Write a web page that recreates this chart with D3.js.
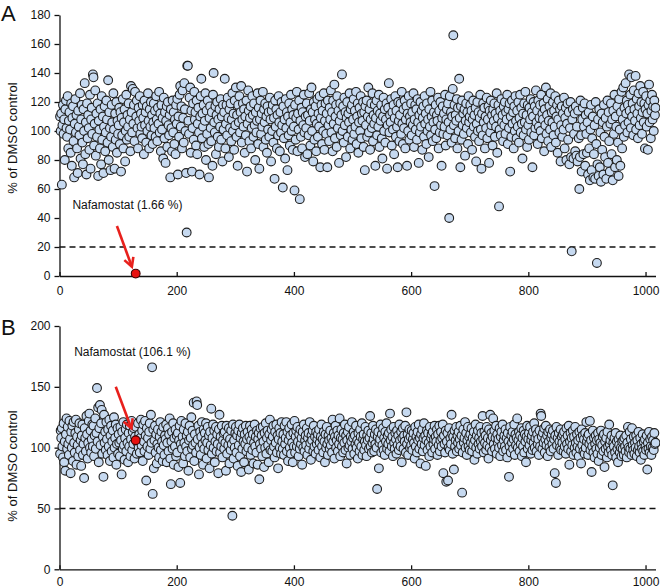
<!DOCTYPE html>
<html>
<head>
<meta charset="utf-8">
<script src="https://cdn.jsdelivr.net/npm/d3@7"></script>
<style>
    body { margin: 0; background: #fff; }
    text { font-family: Arial, "Liberation Sans", sans-serif; fill: #111; }
</style>
</head>
<body>
<svg id="chart" width="660" height="588"></svg>
<script>
// Screen A: % of DMSO control, compounds 1..1017 (compound 130 = nafamostat)
const screenA = [
    110,100,112,63,104,118,98,108,80,115,121,102,96,124,88,107,113,101,85,119,
    76,109,117,93,68,105,122,99,111,88,71,114,103,97,126,81,108,118,92,77,
    115,100,133,84,106,70,119,95,111,102,87,125,74,108,116,98,139,137,90,105,
    128,83,112,96,119,69,107,101,88,115,77,124,94,110,71,103,117,86,99,121,
    108,92,135,80,113,102,73,96,118,106,89,126,101,74,112,94,120,85,107,98,
    104,116,91,113,72,109,97,122,88,106,115,79,100,125,94,111,103,119,96,108,
    86,131,113,99,129,105,118,93,127,1.66,110,121,102,88,116,107,124,98,112,103,
    95,118,109,84,121,104,113,92,117,100,126,107,88,115,103,120,97,111,91,106,
    119,102,114,96,124,108,93,116,105,127,99,112,86,118,101,109,81,123,95,113,
    78,107,117,89,120,104,97,111,68,115,102,86,121,99,113,91,108,84,118,105,
    122,70,110,96,125,131,103,117,88,128,109,92,133,115,100,71,30,145,145,107,
    98,123,130,85,114,72,102,119,94,127,108,113,90,121,84,105,116,99,70,110,
    124,136,95,112,103,118,89,107,126,80,114,98,121,91,68,109,117,102,93,113,
    76,125,140,106,99,117,84,111,120,96,108,89,115,103,122,94,110,79,118,101,
    113,136,88,105,118,97,123,109,82,115,102,119,93,108,126,100,112,87,121,104,
    130,96,111,76,118,106,124,99,113,131,92,108,119,103,115,85,110,97,121,72,
    105,128,114,93,109,117,88,102,124,111,96,119,104,80,113,99,107,126,91,116,
    74,108,121,98,112,103,127,89,115,106,119,94,110,85,117,101,113,96,123,108,
    79,114,100,118,92,109,67,121,103,115,88,111,97,124,106,86,113,99,120,104,
    61,117,95,108,81,122,102,113,73,110,97,119,90,106,125,100,115,87,111,103,
    59,118,94,109,127,86,112,101,121,53,107,96,116,88,113,104,125,99,82,110,
    102,119,84,111,97,126,107,90,115,130,100,113,79,120,94,108,117,86,105,122,
    96,112,103,124,75,109,118,91,114,100,126,87,107,119,98,112,75,121,104,93,
    116,108,128,99,113,86,121,105,132,95,110,118,89,124,102,114,78,107,119,97,
    111,139,100,117,92,123,104,113,82,109,120,96,112,106,126,88,115,101,118,94,
    108,122,98,114,103,127,91,110,119,85,106,116,100,124,95,112,107,120,89,113,
    73,117,104,121,96,110,130,99,115,87,108,119,102,126,93,111,105,118,76,109,
    121,97,114,103,125,89,112,107,118,95,81,110,123,100,115,92,108,119,74,104,
    116,133,99,111,106,122,90,113,101,118,84,109,124,96,114,103,75,120,107,93,
    111,119,98,127,105,91,115,102,121,88,108,117,76,112,100,124,94,110,106,119,
    97,113,104,126,89,108,118,101,115,94,122,106,78,111,99,120,103,114,87,109,
    117,96,124,105,112,91,119,100,108,82,115,103,127,97,110,121,93,106,113,62,
    101,118,95,111,107,123,88,114,99,120,104,76,109,117,98,112,103,125,90,108,
    115,97,119,106,40,124,101,113,92,110,129,166,104,118,95,111,107,122,88,116,
    100,136,109,75,117,94,121,104,112,98,115,83,107,119,102,113,91,124,106,110,
    118,99,114,87,108,121,103,111,96,116,79,105,120,100,113,93,109,125,101,74,
    112,97,119,106,116,88,110,102,123,95,108,117,78,114,99,121,104,111,90,115,
    107,119,96,112,103,126,85,109,118,48,101,114,97,122,106,111,93,117,104,120,
    98,113,108,125,91,115,102,119,72,110,96,121,105,113,88,117,100,124,107,95,
    114,103,120,92,109,125,99,116,105,81,112,97,119,106,127,101,111,89,118,104,
    94,116,108,122,99,113,75,110,120,97,117,102,128,106,114,91,121,103,109,118,
    100,125,95,112,108,119,86,115,104,130,98,111,122,93,107,117,101,126,89,113,
    106,120,97,114,103,124,92,110,118,85,108,121,99,115,79,104,117,96,112,101,
    123,88,109,116,80,105,119,94,113,77,102,120,82,17,108,115,81,98,112,86,
    117,83,103,79,114,95,60,82,121,97,72,108,116,84,103,119,76,111,98,85,
    106,70,113,88,66,101,118,73,95,110,68,84,104,67,120,91,9,77,108,69,
    115,75,99,65,112,87,106,70,118,96,82,109,67,103,121,78,113,93,72,105,
    119,84,108,66,114,98,125,75,110,103,80,117,92,69,122,101,76,113,127,88,
    108,130,96,116,104,133,112,121,99,118,106,139,114,125,102,137,110,119,97,128,
    115,107,138,101,122,112,95,126,117,104,131,109,120,98,113,127,106,119,88,115,
    124,103,112,87,118,132,106,121,95,114,125,108,117,100,121,111,116
];

// Screen B: % of DMSO control, compounds 1..1017 (compound 130 = nafamostat)
const screenB = [
    95,114,108,116,101,92,120,88,105,81,111,124,99,117,103,94,122,107,79,113,
    100,118,89,121,104,96,112,123,86,109,102,93,115,120,98,106,85,110,119,94,
    103,75,116,108,97,126,111,91,104,122,128,100,114,96,107,119,101,118,93,110,
    124,99,112,149,105,133,88,116,135,102,120,131,95,109,76,127,104,113,98,121,
    107,94,115,101,123,89,110,118,97,105,114,92,125,100,108,119,86,103,116,95,
    111,104,93,117,106,78,113,99,121,102,90,108,115,97,119,104,88,112,101,118,
    93,107,122,98,113,103,116,91,109,106.1,117,95,104,120,100,111,96,108,123,102,
    114,89,119,105,97,122,110,73,116,101,108,94,113,120,99,127,104,166,62,115,
    83,106,118,96,111,87,103,115,100,92,109,121,98,113,105,89,117,102,94,110,
    107,119,88,104,116,97,111,124,91,70,105,113,99,120,86,108,101,115,93,110,
    96,112,84,106,118,71,103,122,99,109,87,115,104,93,120,101,110,97,113,81,
    106,118,92,108,125,99,114,102,137,89,111,104,96,138,135,107,118,78,100,113,
    94,109,121,103,86,115,99,112,106,120,91,104,117,98,110,83,113,102,132,95,
    108,119,100,114,88,105,117,97,111,103,79,115,127,96,109,101,118,92,106,112,
    99,113,104,81,118,95,109,102,116,87,107,98,114,103,44,119,91,106,100,112,
    117,96,110,85,114,102,119,93,108,80,112,99,116,105,88,111,103,118,97,107,
    113,100,82,109,118,94,106,115,98,111,87,104,119,101,109,96,114,86,107,112,
    74,103,116,99,110,93,117,105,84,112,100,120,95,108,114,102,88,111,123,98,
    106,115,97,109,118,101,92,113,104,119,96,110,83,107,116,100,112,95,121,105,
    99,111,94,118,103,108,121,97,113,89,106,116,100,110,95,119,104,88,112,101,
    122,96,109,114,101,117,105,93,111,99,115,103,108,86,113,100,119,97,106,110,
    102,116,94,108,112,99,121,104,90,110,106,114,97,118,101,109,95,113,103,107,
    111,98,115,104,92,109,119,101,107,96,113,105,88,111,100,117,103,94,110,106,
    99,114,102,108,96,123,105,112,91,109,118,100,106,114,97,110,103,124,93,108,
    115,101,107,96,112,104,119,98,110,87,106,113,100,117,102,94,109,105,121,99,
    108,113,95,110,103,118,100,106,91,112,104,97,115,109,101,120,94,107,111,98,
    105,117,102,93,110,106,114,99,108,126,101,112,96,104,118,107,97,111,103,115,
    100,66,109,113,83,104,107,119,96,111,102,116,98,108,94,113,105,120,99,110,
    103,112,97,128,106,115,101,109,93,117,104,99,112,107,95,114,102,110,98,119,
    106,101,113,88,108,116,99,110,105,118,96,129,103,111,94,107,115,100,109,102,
    114,98,107,112,104,91,117,101,109,96,113,106,119,99,108,87,111,103,115,97,
    108,120,102,110,85,106,114,98,112,104,93,117,101,108,111,96,113,103,107,118,
    99,109,105,115,94,111,102,118,97,106,113,101,108,119,79,110,103,96,114,72,
    105,112,73,100,116,98,108,103,127,111,95,109,82,114,101,106,117,97,110,104,
    113,99,107,118,102,110,63,96,115,104,108,121,100,112,94,106,117,101,109,98,
    111,104,116,97,108,102,113,90,106,119,100,110,95,114,103,108,99,117,105,112,
    101,126,107,96,113,104,110,98,117,102,108,91,115,100,127,106,112,97,109,124,
    103,114,99,108,118,95,111,104,107,100,116,93,109,113,102,119,97,106,110,101,
    115,98,108,92,112,105,76,101,117,96,110,104,113,99,107,119,94,111,102,108,
    124,100,106,113,97,110,103,116,93,108,101,114,96,111,105,88,109,118,99,107,
    112,102,117,95,106,110,98,113,104,120,100,108,115,97,111,103,107,94,114,101,
    128,126,109,99,112,104,116,96,107,118,102,110,93,113,105,100,115,97,108,111,
    103,114,99,107,79,110,71,117,102,108,94,112,105,100,115,98,109,104,111,97,
    113,101,107,95,116,103,110,99,118,86,105,112,97,108,102,114,94,109,100,117,
    104,96,111,101,106,93,113,99,108,87,115,102,110,97,107,95,112,100,121,105,
    109,94,111,103,122,98,106,80,101,114,96,108,92,103,110,99,106,95,112,89,
    107,100,104,114,94,102,109,97,111,84,105,99,108,92,113,101,96,119,103,106,
    98,110,94,69,104,101,108,96,112,92,105,99,88,107,102,96,110,100,93,105,
    99,106,94,108,101,97,110,92,104,117,100,96,113,99,107,94,116,102,98,109,
    95,104,100,110,93,106,98,113,101,96,108,90,103,99,111,97,105,94,107,101,
    98,110,82,104,99,113,96,107,101,94,109,100,106,98,112,103,104
];

const hitIndex = 130;            // nafamostat, 1-based compound number
const compoundCount = 1017;
const xTicks = [0, 200, 400, 600, 800, 1000];
const yTicksA = [0, 20, 40, 60, 80, 100, 120, 140, 160, 180];
const yTicksB = [0, 50, 100, 150, 200];

const panels = [
    {
        letter: 'A', values: screenA, yMax: 180, yTicks: yTicksA, cutoff: 20,
        top: 15, bottom: 276, letterY: 21, titleY: 138, xPad: 10.5,
        label: 'Nafamostat (1.66 %)', labelAt: [22, 46],
        arrowFrom: [98, 34.5], arrowTo: [123.5, 6.4]
    },
    {
        letter: 'B', values: screenB, yMax: 200, yTicks: yTicksB, cutoff: 50,
        top: 326, bottom: 569.3, letterY: 335, titleY: 466, xPad: 8,
        label: 'Nafamostat (106.1 %)', labelAt: [25, 175],
        arrowFrom: [96, 150], arrowTo: [122.5, 116]
    }
];

const svg = d3.select('#chart');
const x = d3.scaleLinear().domain([0, compoundCount]).range([59.5, 655.5]);

function drawPanel(p) {
    const g = svg.append('g');
    const y = d3.scaleLinear().domain([0, p.yMax]).range([p.bottom, p.top]);

    // Axes
    const yAxis = g.append('g')
        .attr('transform', `translate(${x(0)},0)`)
        .call(d3.axisLeft(y).tickValues(p.yTicks).tickSizeInner(5).tickSizeOuter(0).tickPadding(4));
    const xAxis = g.append('g')
        .attr('transform', `translate(0,${p.bottom})`)
        .call(d3.axisBottom(x).tickValues(xTicks).tickFormat(d3.format('d'))
            .tickSizeInner(-4).tickSizeOuter(0).tickPadding(p.xPad));
    [yAxis, xAxis].forEach(a => {
        a.selectAll('path, line').attr('stroke', '#111').attr('stroke-width', 1.3);
        a.selectAll('text').attr('font-size', 12).attr('fill', '#222');
    });

    // Cutoff line
    g.append('line')
        .attr('x1', x(0)).attr('x2', x(compoundCount))
        .attr('y1', y(p.cutoff)).attr('y2', y(p.cutoff))
        .attr('stroke', '#111')
        .attr('stroke-width', 1.3)
        .attr('stroke-dasharray', '6,4');

    // Compounds
    const pts = p.values.map((v, i) => ({ n: i + 1, v }));
    g.selectAll('circle.cpd')
        .data(pts.filter(d => d.n !== hitIndex))
        .join('circle')
        .attr('class', 'cpd')
        .attr('cx', d => x(d.n))
        .attr('cy', d => y(d.v))
        .attr('r', 4.4)
        .attr('fill', '#c6d9f0')
        .attr('stroke', '#1e1e1e')
        .attr('stroke-width', 1.1);

    const hit = pts[hitIndex - 1];
    g.append('circle')
        .attr('cx', x(hit.n))
        .attr('cy', y(hit.v))
        .attr('r', 4.4)
        .attr('fill', '#e8110f')
        .attr('stroke', '#3a0000')
        .attr('stroke-width', 1.1);

    // Annotation arrow
    const x1 = x(p.arrowFrom[0]), y1 = y(p.arrowFrom[1]);
    const x2 = x(p.arrowTo[0]), y2 = y(p.arrowTo[1]);
    const ang = Math.atan2(y2 - y1, x2 - x1);
    const head = 10, spread = 0.5;
    const red = '#e8201c';
    g.append('line')
        .attr('x1', x1).attr('y1', y1).attr('x2', x2).attr('y2', y2)
        .attr('stroke', red).attr('stroke-width', 2.6);
    g.append('path')
        .attr('d', `M${x2 - head * Math.cos(ang - spread)},${y2 - head * Math.sin(ang - spread)}` +
                   `L${x2},${y2}` +
                   `L${x2 - head * Math.cos(ang + spread)},${y2 - head * Math.sin(ang + spread)}`)
        .attr('fill', 'none')
        .attr('stroke', red)
        .attr('stroke-width', 2.6)
        .attr('stroke-linejoin', 'miter');

    g.append('text')
        .attr('x', x(p.labelAt[0]))
        .attr('y', y(p.labelAt[1]))
        .attr('font-size', 12)
        .text(p.label);

    // Panel letter and y title
    g.append('text')
        .attr('x', 1)
        .attr('y', p.letterY)
        .attr('font-size', 22)
        .text(p.letter);
    g.append('text')
        .attr('transform', `translate(17,${p.titleY}) rotate(-90)`)
        .attr('text-anchor', 'middle')
        .attr('font-size', 13)
        .text('% of DMSO control');
}

panels.forEach(drawPanel);
</script>
</body>
</html>
